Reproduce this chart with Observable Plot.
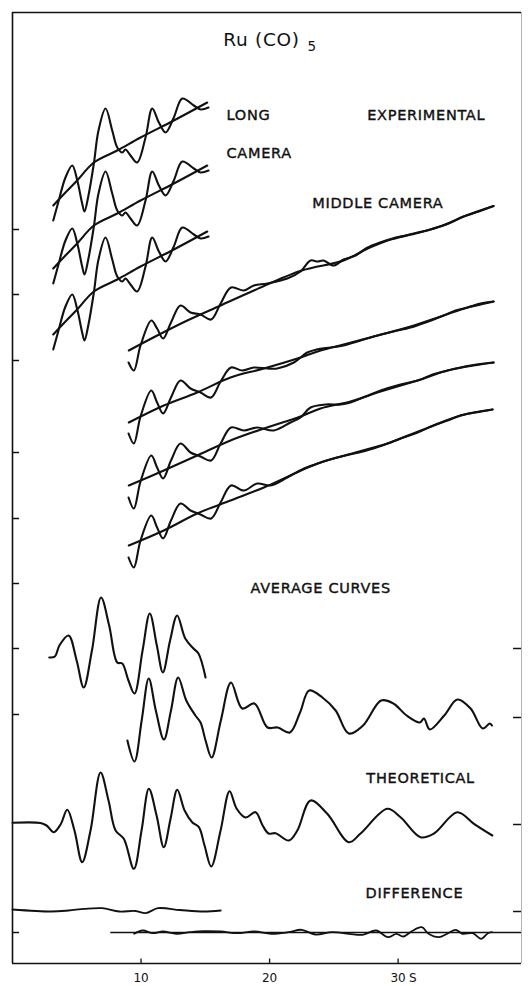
<!DOCTYPE html>
<html><head><meta charset="utf-8">
<script src="https://cdn.jsdelivr.net/npm/d3@7"></script>
<script src="https://cdn.jsdelivr.net/npm/@observablehq/plot@0.6"></script>
<style>
html,body{margin:0;padding:0;background:#fff;}
#chart svg{display:block;}
#chart g[aria-label="text"] text{letter-spacing:0.7px;}
</style>
</head><body><div id="chart"></div>
<script>
// s (1/Angstrom) ticks
const xTicks = [10, 20, 30];
// arbitrary intensity units; tick marks on the frame
const leftTicks = [73.4, 66.9, 60.3, 51.1, 44.5, 38.0, 31.5, 24.9, 3.1];
const rightTicks = [31.5, 24.6, 13.9, 5.2];

// Long camera experimental: total intensity (first curve) and background
const longOsc = [[3.17,74.3],[3.6,76.3],[4.12,78.6],[4.65,79.8],[5.04,78.3],[5.42,76.0],[5.6,75.2],[5.91,76.8],[6.33,80.0],[6.69,83.3],[7.24,85.5],[7.76,83.3],[8.15,81.6],[8.54,81.1],[8.79,81.4],[9.18,80.8],[9.7,80.1],[10.35,82.6],[10.87,85.5],[11.39,84.1],[11.91,83.1],[12.55,84.6],[13.21,86.5],[14.11,85.8],[14.63,85.4],[15.25,85.6]];
const longBg = [[3.17,75.8],[4.12,77.1],[5.03,78.3],[6.33,80.1],[8.15,81.3],[9.96,82.6],[12.55,84.3],[15.15,86.1]];
// vertical shift of the three long-camera plates
const longOffsets = [0, -6.3, -12.9];

// Middle camera experimental: four plates
const m1Osc = [[9.03,60.1],[9.44,59.3],[9.96,61.8],[10.8,64.3],[11.25,63.5],[11.72,62.5],[12.33,64.1],[13.07,65.8],[13.85,65.1],[14.63,64.9],[15.45,64.4],[16.19,66.0],[17.0,67.6],[18.0,67.3],[18.78,67.8],[19.82,68.0],[21.38,68.5],[22.41,69.2],[23.19,70.3],[23.74,70.2],[24.2,70.3],[24.98,69.8],[25.76,70.4],[26.69,70.8],[27.63,71.6],[28.6,72.1],[29.57,72.5],[30.58,72.8],[31.52,73.1],[32.53,73.4],[33.85,74.0],[35.1,74.7],[36.03,75.1],[37.43,75.75]];
const m1Bg = [[9.05,61.3],[11.26,62.8],[13.6,64.3],[16.19,65.8],[18.78,67.3],[22.5,69.3],[25.76,70.3],[27.63,71.5],[29.57,72.45],[31.52,73.05],[33.85,73.95],[35.1,74.7],[37.43,75.75]];
const m2Osc = [[9.03,53.0],[9.44,52.0],[9.96,54.7],[10.8,57.3],[11.25,56.1],[11.72,55.0],[12.33,56.6],[13.07,58.3],[13.85,57.5],[14.63,57.1],[15.45,56.6],[16.19,58.2],[17.0,59.6],[17.87,59.3],[18.78,59.6],[19.82,59.5],[20.6,59.5],[21.89,60.1],[22.93,61.1],[23.66,61.4],[24.75,61.6],[25.76,61.8],[27.08,62.3],[28.4,62.8],[29.65,63.2],[30.97,63.6],[32.14,64.1],[33.54,64.8],[34.47,65.3],[35.41,65.6],[36.42,66.0],[37.43,66.2]];
const m2Bg = [[9.05,54.1],[11.77,55.8],[14.37,57.1],[16.96,58.6],[19.56,59.5],[22.41,60.6],[23.97,61.3],[25.76,61.9],[28.4,62.8],[30.97,63.7],[33.54,64.8],[35.41,65.6],[37.43,66.2]];
const m3Osc = [[9.03,46.6],[9.44,45.5],[9.96,48.2],[10.8,50.8],[11.25,49.6],[11.72,48.5],[12.33,50.3],[13.07,52.0],[13.85,51.1],[14.63,50.7],[15.45,50.3],[16.19,52.0],[17.0,53.6],[18.0,53.3],[19.04,53.6],[20.33,53.3],[21.63,54.1],[22.41,54.6],[23.19,55.6],[24.36,55.9],[25.53,55.9],[26.3,56.1],[27.47,56.7],[28.64,57.3],[30.19,57.9],[31.52,58.3],[32.69,58.9],[33.85,59.3],[35.64,59.8],[37.43,60.1]];
const m3Bg = [[9.05,47.8],[11.77,49.3],[14.37,50.8],[16.96,52.3],[19.56,53.5],[22.41,54.7],[23.97,55.5],[26.3,56.2],[28.64,57.2],[31.52,58.3],[33.85,59.3],[37.43,60.1]];
const m4Osc = [[9.03,40.6],[9.44,39.6],[9.96,42.3],[10.8,44.8],[11.25,43.6],[11.72,42.5],[12.33,44.3],[13.07,46.0],[13.85,45.3],[14.63,44.9],[15.45,44.5],[16.19,46.1],[17.0,47.8],[18.0,47.3],[19.04,48.0],[20.07,47.8],[21.38,48.6],[22.68,49.5],[23.97,50.1],[24.98,50.5],[26.69,51.1],[28.09,51.6],[29.18,52.0],[30.19,52.5],[31.52,53.1],[32.76,53.8],[33.85,54.3],[34.86,54.8],[36.03,55.1],[37.35,55.4]];
const m4Bg = [[9.05,41.8],[11.77,43.3],[14.37,45.0],[16.96,46.3],[19.56,47.6],[23.97,50.1],[28.09,51.5],[30.19,52.5],[32.76,53.8],[34.86,54.8],[37.35,55.4]];

// Average molecular intensity curves
const longAverage = [[2.86,30.6],[3.3,30.7],[3.65,31.8],[4.36,32.8],[4.99,30.3],[5.54,27.6],[6.18,31.3],[6.89,36.6],[7.52,33.8],[8.15,30.1],[8.54,30.0],[9.02,28.3],[9.49,27.0],[10.12,31.3],[10.68,35.0],[11.23,31.8],[11.7,29.1],[12.26,32.3],[12.81,34.8],[13.44,32.5],[14.08,31.5],[14.47,31.0],[15.02,28.6]];
const middleAverage = [[8.94,22.3],[9.49,20.2],[10.05,24.3],[10.6,28.5],[11.15,25.3],[11.78,22.4],[12.33,25.3],[12.89,28.6],[13.52,26.3],[14.23,24.8],[14.63,24.1],[15.02,22.3],[15.49,20.6],[16.21,24.3],[17.0,28.1],[17.87,25.5],[18.82,26.0],[19.84,23.6],[20.63,23.6],[21.58,23.1],[22.37,25.1],[23.08,27.3],[24.11,26.6],[25.14,25.3],[26.16,23.0],[27.27,23.8],[28.68,26.3],[29.63,26.0],[30.66,24.8],[31.69,24.1],[32.01,24.5],[32.47,23.4],[33.59,24.8],[34.61,26.4],[35.64,25.5],[36.58,23.5],[37.14,24.0],[37.3,23.8]];

// Theoretical curve
const theoretical = [[0,14.07],[2.18,14.05],[2.65,13.8],[3.21,13.13],[3.74,13.9],[4.26,15.37],[4.82,13.3],[5.42,10.13],[6.07,13.3],[6.85,19.1],[7.47,16.3],[8.02,13.3],[8.66,12.47],[9.44,9.47],[10.04,13.3],[10.61,17.47],[11.21,14.8],[11.77,11.63],[12.3,14.5],[12.82,17.37],[13.39,15.3],[13.98,14.13],[14.5,13.63],[14.94,11.8],[15.46,9.7],[16.19,13.3],[16.89,17.23],[17.43,15.5],[18.13,14.6],[18.91,15.13],[19.46,13.8],[19.92,13.0],[20.47,13.03],[21.5,12.3],[22.16,13.3],[23.19,16.3],[24.49,14.97],[26.17,12.13],[27.08,13.0],[29.16,15.47],[30.19,14.63],[31.75,12.63],[32.79,13.0],[34.61,15.13],[35.9,13.97],[37.33,12.8]];

// Difference curves
const diffLong = [[0,5.4],[3.02,5.2],[4.36,5.3],[5.62,5.47],[6.97,5.53],[8.31,5.2],[9.57,5.25],[10.36,5.03],[11.31,5.53],[13.03,5.35],[14.86,5.2],[16.2,5.3]];
const diffMiddle = [[9.47,2.97],[10.12,3.3],[10.92,3.03],[11.7,3.2],[12.75,2.97],[13.81,3.13],[14.86,3.23],[16.19,3.2],[17.49,3.03],[18.82,3.2],[20.13,2.97],[21.45,3.13],[22.5,3.37],[23.56,2.9],[24.87,3.13],[26.19,2.97],[27.24,2.87],[28.29,3.3],[29.21,2.63],[29.87,2.97],[30.4,2.7],[31.06,3.23],[31.84,3.63],[32.37,2.97],[33.17,2.63],[33.82,2.97],[34.48,3.37],[35.01,2.97],[35.8,3.03],[36.46,2.47],[36.99,3.03],[37.3,3.13]];
const diffZero = [{s1: 7.65, s2: 39.6, v: 3.1}];

const labels = [
  {s: 16.65, v: 84.8, t: "LONG"},
  {s: 16.65, v: 81.0, t: "CAMERA"},
  {s: 27.6, v: 84.8, t: "EXPERIMENTAL"},
  {s: 23.32, v: 76.05, t: "MIDDLE CAMERA"},
  {s: 18.52, v: 37.55, t: "AVERAGE CURVES"},
  {s: 27.53, v: 18.55, t: "THEORETICAL"},
  {s: 27.47, v: 7.05, t: "DIFFERENCE"}
];
const titleParts = [
  {s: 16.4, v: 92.3, t: "Ru (CO)", size: 18.5},
  {s: 22.95, v: 91.7, t: "5", size: 13.5}
];

const middleOsc = [m1Osc, m2Osc, m3Osc, m4Osc];
const middleBg = [m1Bg, m2Bg, m3Bg, m4Bg];

const longRows = longOffsets.flatMap((off, g) => longOsc.map(([s, v]) => ({s, v: v + off, g})));
const longBgRows = longOffsets.flatMap((off, g) => longBg.map(([s, v]) => ({s, v: v + off, g})));
const midRows = middleOsc.flatMap((arr, g) => arr.map(([s, v]) => ({s, v, g})));
const midBgRows = middleBg.flatMap((arr, g) => arr.map(([s, v]) => ({s, v, g})));
const pairs = arr => arr.map(([s, v]) => ({s, v}));

const ink = "#111";
const lineOpts = {x: "s", y: "v", stroke: ink, strokeWidth: 2.1, curve: "catmull-rom"};

const chart = Plot.plot({
  width: 531,
  height: 986,
  marginLeft: 12,
  marginRight: 10,
  marginTop: 12,
  marginBottom: 23,
  x: {domain: [0, 39.6]},
  y: {domain: [0, 95.1], axis: null},
  style: {fontFamily: "DejaVu Sans, sans-serif", fontSize: "12px", color: ink, background: "#fff"},
  marks: [
    // frame
    Plot.ruleX([0], {stroke: ink, strokeWidth: 1.6}),
    Plot.ruleX([39.6], {stroke: "#a0a0a0", strokeWidth: 0.8}),
    Plot.ruleY([95.1], {stroke: ink, strokeWidth: 1.3}),
    Plot.ruleY([0], {stroke: ink, strokeWidth: 1.6}),
    Plot.ruleY(leftTicks, {x1: 0, x2: 0.55, stroke: ink, strokeWidth: 1.5}),
    Plot.ruleY(rightTicks, {x1: 38.98, x2: 39.6, stroke: ink, strokeWidth: 1.5}),
    Plot.ruleX(xTicks, {y1: 0, y2: 0.45, stroke: ink, strokeWidth: 1.3}),
    Plot.axisX({ticks: xTicks, tickSize: 0, tickPadding: 10, fontSize: 12}),
    Plot.text([{s: 31.17, t: "S"}], {x: "s", text: "t", frameAnchor: "bottom", dy: 10, lineAnchor: "top", fontSize: 12, fill: ink}),
    // long camera
    Plot.line(longBgRows, {...lineOpts, z: "g"}),
    Plot.line(longRows, {...lineOpts, z: "g"}),
    // middle camera
    Plot.line(midBgRows, {...lineOpts, z: "g"}),
    Plot.line(midRows, {...lineOpts, z: "g"}),
    // averages
    Plot.line(pairs(longAverage), lineOpts),
    Plot.line(pairs(middleAverage), lineOpts),
    // theoretical
    Plot.line(pairs(theoretical), lineOpts),
    // differences
    Plot.ruleY(diffZero, {y: "v", x1: "s1", x2: "s2", stroke: ink, strokeWidth: 1.6}),
    Plot.line(pairs(diffLong), {...lineOpts, strokeWidth: 1.8}),
    Plot.line(pairs(diffMiddle), {...lineOpts, strokeWidth: 1.8}),
    // labels
    Plot.text(labels, {x: "s", y: "v", text: "t", textAnchor: "start", lineAnchor: "middle", fontSize: 14.5, fill: ink, stroke: ink, strokeWidth: 0.4}),
    Plot.text(titleParts, {x: "s", y: "v", text: "t", textAnchor: "start", lineAnchor: "middle", fontSize: d => d.size, fill: ink})
  ]
});
document.getElementById("chart").appendChild(chart);
</script></body></html>
